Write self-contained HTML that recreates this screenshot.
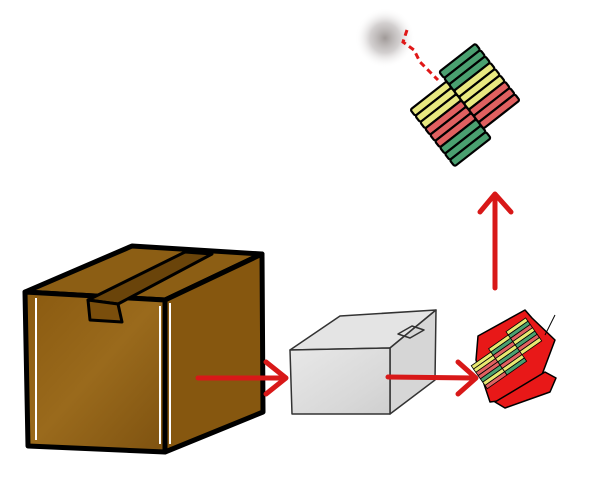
<!DOCTYPE html>
<html><head><style>html,body{margin:0;padding:0;background:#fff;}svg{display:block}</style></head>
<body>
<svg width="600" height="480" viewBox="0 0 600 480" xmlns="http://www.w3.org/2000/svg">
<defs>
<radialGradient id="smoke"><stop offset="0" stop-color="#a09a98"/><stop offset="0.5" stop-color="#c8c4c4" stop-opacity="0.8"/><stop offset="1" stop-color="#fff" stop-opacity="0"/></radialGradient>
<linearGradient id="front" x1="0" y1="0" x2="1" y2="1"><stop offset="0" stop-color="#8a5a10"/><stop offset="0.5" stop-color="#9a6a1c"/><stop offset="1" stop-color="#7e5210"/></linearGradient>
<linearGradient id="gfront" x1="0" y1="0" x2="1" y2="1"><stop offset="0" stop-color="#e8e8e8"/><stop offset="0.7" stop-color="#d8d8d8"/><stop offset="1" stop-color="#cfcfcf"/></linearGradient>
</defs>

<!-- big box -->
<g stroke="#000" stroke-width="5" stroke-linejoin="round">
<polygon points="25,292 132,246 262,254 165,300" fill="#8c5e14"/>
<polygon points="165,300 262,254 263,412 165,452" fill="#86570f"/>
<polygon points="25,292 165,300 165,452 28,446" fill="url(#front)"/>
<polygon points="88,300 185,252 212,254 118,304" fill="#6a440a" stroke-width="3"/>
<polygon points="88,300 118,304 122,322 90,320" fill="#7a4e0c" stroke-width="3"/>
</g>
<line x1="36" y1="298" x2="36" y2="440" stroke="#fff" stroke-width="2"/>
<line x1="160" y1="306" x2="160" y2="444" stroke="#fff" stroke-width="2"/>
<line x1="170" y1="303" x2="170" y2="444" stroke="#fff" stroke-width="2"/>

<!-- grey box -->
<g stroke="#333" stroke-width="1.5" stroke-linejoin="round">
<polygon points="290,350 340,316 436,310 390,348" fill="#e4e4e4"/>
<polygon points="390,348 436,310 435,380 390,414" fill="#d6d6d6"/>
<polygon points="290,350 390,348 390,414 292,414" fill="url(#gfront)"/>
<polygon points="398,334 412,326 424,330 410,338" fill="none"/>
</g>

<!-- small pack casing -->
<g stroke="#000" stroke-width="1.5" stroke-linejoin="round">
<polygon points="478,336 525,310 532,318 555,340 540,380 505,400 490,402 476,360" fill="#e81818"/>
<polygon points="495,402 545,372 556,378 550,392 505,408" fill="#e81818"/>
</g>

<!-- arrows -->
<g stroke="#d81818" stroke-width="5" fill="none" stroke-linecap="round" stroke-linejoin="round">
<line x1="198" y1="378" x2="284" y2="378"/>
<polyline points="266,362 286,378 266,394"/>
<line x1="388" y1="377" x2="474" y2="378"/>
<polyline points="458,362 476,378 458,394"/>
<line x1="495" y1="288" x2="495" y2="196"/>
<polyline points="480,212 495,194 511,212"/>
</g>

<!-- small pack crackers -->
<g stroke="#000" stroke-width="0.8">
<g transform="translate(515,362) rotate(-35)">
<rect x="-38" y="-22" width="24" height="4" fill="#e8e870"/>
<rect x="-38" y="-18" width="24" height="4" fill="#e8e870"/>
<rect x="-38" y="-14" width="24" height="4" fill="#e06060"/>
<rect x="-38" y="-10" width="24" height="4" fill="#e06060"/>
<rect x="-38" y="-6" width="24" height="4" fill="#4aa070"/>
<rect x="-38" y="-2" width="24" height="4" fill="#e8e870"/>
<rect x="-38" y="2" width="24" height="4" fill="#e06060"/>
<rect x="-14" y="-26" width="24" height="4" fill="#e8e870"/>
<rect x="-14" y="-22" width="24" height="4" fill="#4aa070"/>
<rect x="-14" y="-18" width="24" height="4" fill="#e06060"/>
<rect x="-14" y="-14" width="24" height="4" fill="#e8e870"/>
<rect x="-14" y="-10" width="24" height="4" fill="#4aa070"/>
<rect x="-14" y="-6" width="24" height="4" fill="#e06060"/>
<rect x="-14" y="-2" width="24" height="4" fill="#e8e870"/>
<rect x="-14" y="2" width="24" height="4" fill="#4aa070"/>
<rect x="10" y="-30" width="24" height="4" fill="#e8e870"/>
<rect x="10" y="-26" width="24" height="4" fill="#4aa070"/>
<rect x="10" y="-22" width="24" height="4" fill="#e06060"/>
<rect x="10" y="-18" width="24" height="4" fill="#e8e870"/>
<rect x="10" y="-14" width="24" height="4" fill="#4aa070"/>
<rect x="10" y="-10" width="24" height="4" fill="#e06060"/>
<rect x="10" y="-6" width="24" height="4" fill="#e8e870"/>
</g>
</g>
<line x1="545" y1="335" x2="555" y2="315" stroke="#000" stroke-width="1"/>

<!-- smoke -->
<circle cx="385" cy="38" r="30" fill="url(#smoke)"/>
<path d="M407,30 L403,42 L414,50 L420,62 L430,72 L438,80" stroke="#e01818" stroke-width="3" fill="none" stroke-dasharray="6,4"/>

<!-- firecracker bundle -->
<g transform="translate(465,105) rotate(-38)" stroke="#000" stroke-width="2.2" stroke-linejoin="round">
<g>
<rect x="-46" y="-30" width="46" height="8" fill="#e8e880" rx="2"/>
<rect x="-46" y="-22" width="46" height="8" fill="#e8e880" rx="2"/>
<rect x="-46" y="-14" width="46" height="8" fill="#e8e880" rx="2"/>
<rect x="-46" y="-6" width="46" height="8" fill="#e06060" rx="2"/>
<rect x="-46" y="2" width="46" height="8" fill="#e06060" rx="2"/>
<rect x="-46" y="10" width="46" height="8" fill="#e06060" rx="2"/>
<rect x="-46" y="18" width="46" height="8" fill="#4aa070" rx="2"/>
<rect x="-46" y="26" width="46" height="8" fill="#4aa070" rx="2"/>
<rect x="-46" y="34" width="46" height="8" fill="#4aa070" rx="2"/>
</g>
<g>
<rect x="0" y="-42" width="46" height="8" fill="#4aa070" rx="2"/>
<rect x="0" y="-34" width="46" height="8" fill="#4aa070" rx="2"/>
<rect x="0" y="-26" width="46" height="8" fill="#4aa070" rx="2"/>
<rect x="0" y="-18" width="46" height="8" fill="#e8e880" rx="2"/>
<rect x="0" y="-10" width="46" height="8" fill="#e8e880" rx="2"/>
<rect x="0" y="-2" width="46" height="8" fill="#e8e880" rx="2"/>
<rect x="0" y="6" width="46" height="8" fill="#e06060" rx="2"/>
<rect x="0" y="14" width="46" height="8" fill="#e06060" rx="2"/>
<rect x="0" y="22" width="46" height="8" fill="#e06060" rx="2"/>
</g>
</g>
</svg>
</body></html>
